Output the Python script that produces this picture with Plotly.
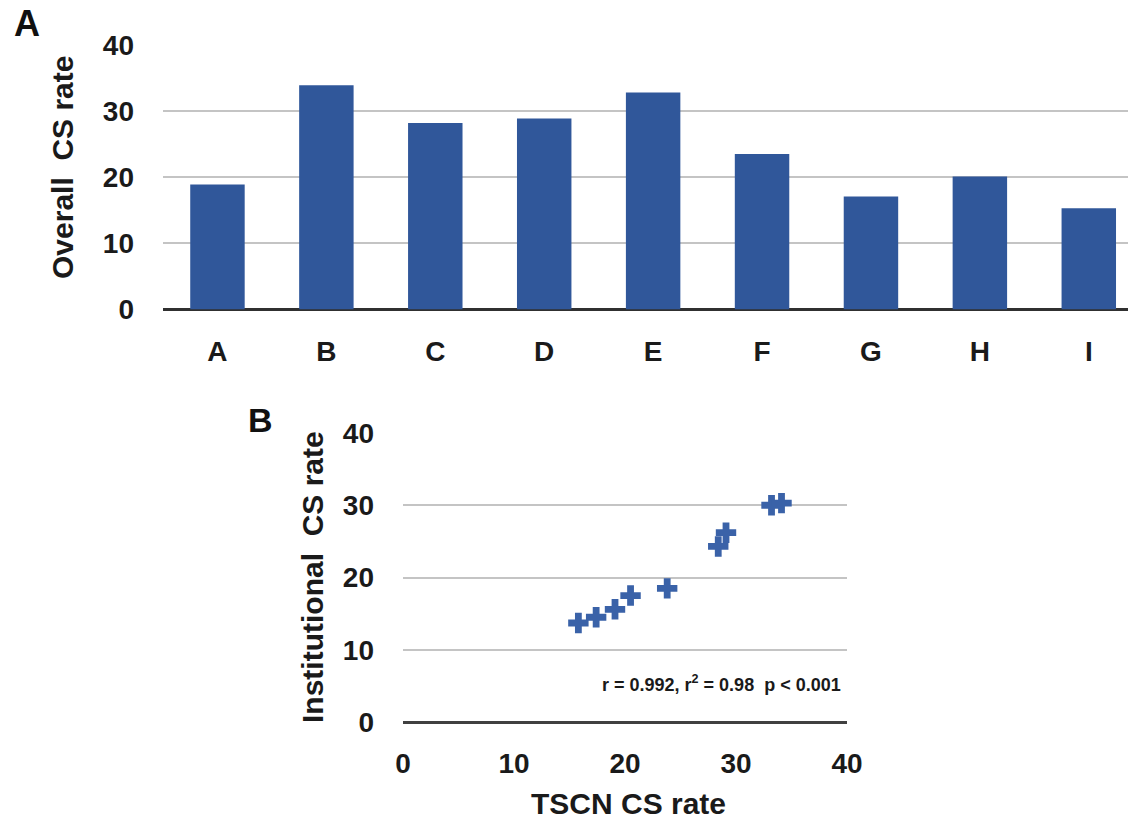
import plotly.graph_objects as go

categories = ["A", "B", "C", "D", "E", "F", "G", "H", "I"]
overall_cs = [18.9, 33.9, 28.2, 28.9, 32.8, 23.5, 17.1, 20.1, 15.3]

tscn_cs = [15.8, 17.4, 19.1, 20.5, 23.8, 28.4, 29.1, 33.2, 34.1]
inst_cs = [13.7, 14.5, 15.6, 17.5, 18.5, 24.3, 26.2, 30.0, 30.3]

W, H = 1128, 819
FAM = "Liberation Sans, Arial, sans-serif"
TXT = "#1a1a1a"
tick_font = dict(family=FAM, size=28, weight="bold", color=TXT)
title_font = dict(family=FAM, size=30, weight="bold", color=TXT)

fig = go.Figure()
fig.add_trace(go.Bar(x=categories, y=overall_cs, width=0.5,
                     marker=dict(color="#30579a", line=dict(width=0)),
                     xaxis="x", yaxis="y", showlegend=False))
fig.add_trace(go.Scatter(x=tscn_cs, y=inst_cs, mode="markers",
                         marker=dict(symbol="cross", size=17, color="#3a62a8",
                                     line=dict(width=0)),
                         xaxis="x2", yaxis="y2", showlegend=False))

def px(x):
    return x / W

def py(y):
    return 1 - y / H

fig.update_layout(
    width=W, height=H,
    margin=dict(l=0, r=0, t=0, b=0, autoexpand=False),
    paper_bgcolor="white", plot_bgcolor="white",
    xaxis=dict(domain=[px(163), 1.0], range=[-0.5, 8.36], type="category",
               showgrid=False, zeroline=False, showline=False, automargin=False,
               ticks="", tickfont=tick_font, ticklabelstandoff=22,
               anchor="y"),
    yaxis=dict(domain=[py(309.5), py(45)], range=[0, 40],
               tickvals=[0, 10, 20, 30, 40], showgrid=True,
               gridcolor="#c4c4c4", gridwidth=1.5, automargin=False,
               zeroline=True, zerolinecolor="#303030", zerolinewidth=2.5,
               showline=False, ticks="", tickfont=tick_font,
               ticklabelstandoff=28, anchor="x"),
    xaxis2=dict(domain=[px(403), px(847)], range=[0, 40],
                tickvals=[0, 10, 20, 30, 40], showgrid=False, automargin=False,
                zeroline=False, showline=False, ticks="",
                tickfont=tick_font, ticklabelstandoff=22, anchor="y2"),
    yaxis2=dict(domain=[py(722), py(433)], range=[0, 40],
                tickvals=[0, 10, 20, 30, 40], showgrid=True,
                gridcolor="#c4c4c4", gridwidth=1.5, automargin=False,
                zeroline=True, zerolinecolor="#404040", zerolinewidth=2.5,
                showline=False, ticks="", tickfont=tick_font,
                ticklabelstandoff=28, anchor="x2"),
)

annotations = [
    dict(text="A", x=px(27), y=py(23), font=dict(family=FAM, size=36, weight="bold", color="#111")),
    dict(text="B", x=px(260), y=py(420), font=dict(family=FAM, size=34, weight="bold", color="#111")),
    dict(text="Overall  CS rate", x=px(63), y=py(168), textangle=-90, font=title_font),
    dict(text="Institutional  CS rate", x=px(312), y=py(577), textangle=-90, font=title_font),
    dict(text="TSCN CS rate", x=px(628), y=py(803), font=title_font),
    dict(text="r = 0.992, r<sup>2</sup> = 0.98  p < 0.001", x=px(721), y=py(683),
         font=dict(family=FAM, size=18, weight="bold", color=TXT)),
]
for a in annotations:
    a.update(xref="paper", yref="paper", xanchor="center", yanchor="middle",
             showarrow=False)
fig.update_layout(annotations=annotations)

fig.write_html("out.html")
